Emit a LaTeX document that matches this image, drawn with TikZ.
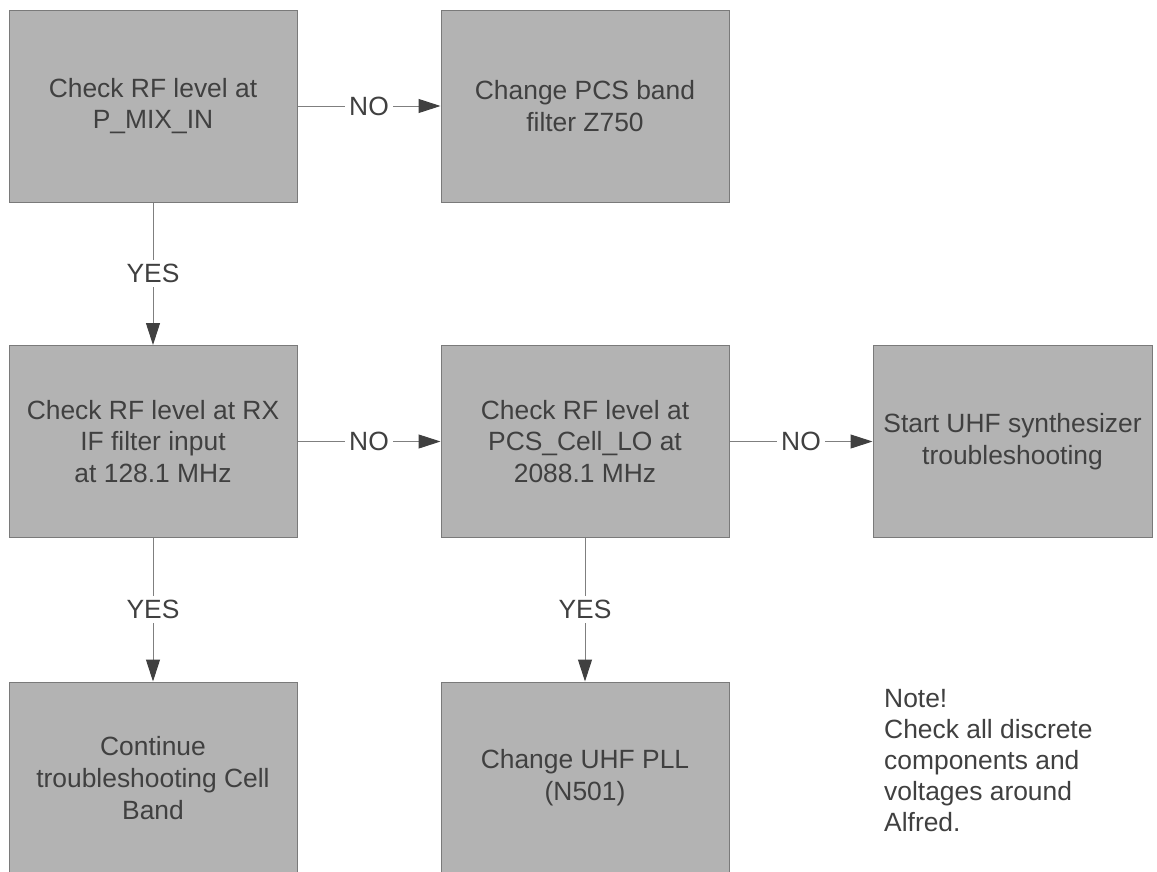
\documentclass[tikz,border=0pt]{standalone}
\usepackage{fontspec}
\setmainfont{Liberation Sans}
\usetikzlibrary{arrows.meta}
\definecolor{boxfill}{HTML}{B3B3B3}
\definecolor{boxline}{HTML}{7A7A7A}
\definecolor{txt}{HTML}{404040}
\definecolor{conn}{HTML}{7F7F7F}
\tikzset{
  stepbox/.style={draw=boxline, fill=boxfill, line width=1pt, minimum width=288pt, minimum height=192pt, inner sep=0pt, align=center, text=txt, font=\fontsize{26.4}{31.7}\selectfont},
  conarrow/.style={draw=conn, line width=1pt, -{Triangle[length=22pt,width=14pt,fill=txt,color=txt]}},
  conlabel/.style={fill=white, text=txt, inner sep=4pt, font=\fontsize{26.4}{31.7}\selectfont}
}
\begin{document}
\begin{tikzpicture}[x=1pt,y=-1pt]
\useasboundingbox (0,0) rectangle (1157,871);
\clip (0,0) rectangle (1157,871);
\fill[white] (0,0) rectangle (1157,871);
\node[stepbox] (b1) at (153,106) {Check RF level at\\P\_MIX\_IN};
\node[stepbox] (b2) at (585,106) {Change PCS band\\filter Z750};
\node[stepbox] (b3) at (153,441.5) {Check RF level at RX\\IF filter input\\at 128.1 MHz};
\node[stepbox] (b4) at (585,441.5) {Check RF level at\\PCS\_Cell\_LO at\\2088.1 MHz};
\node[stepbox, minimum width=279pt] (b5) at (1012.5,441.5) {Start UHF synthesizer\\troubleshooting};
\node[stepbox] (b6) at (153,778) {Continue\\troubleshooting Cell\\Band};
\node[stepbox] (b7) at (585,778) {Change UHF PLL\\(N501)};
\node[anchor=north west, align=left, text=txt, inner sep=0pt, font=\fontsize{26.4}{31}\selectfont] (note) at (884,689) {Note!\\Check all discrete\\components and\\voltages around\\Alfred.};
\draw[conarrow] (b1) -- node[conlabel] {NO} (b2);
\draw[conarrow] (b1) -- node[conlabel] {YES} (b3);
\draw[conarrow] (b3) -- node[conlabel] {NO} (b4);
\draw[conarrow] (b4) -- node[conlabel] {NO} (b5);
\draw[conarrow] (b3) -- node[conlabel] {YES} (b6);
\draw[conarrow] (b4) -- node[conlabel] {YES} (b7);
\end{tikzpicture}
\end{document}
